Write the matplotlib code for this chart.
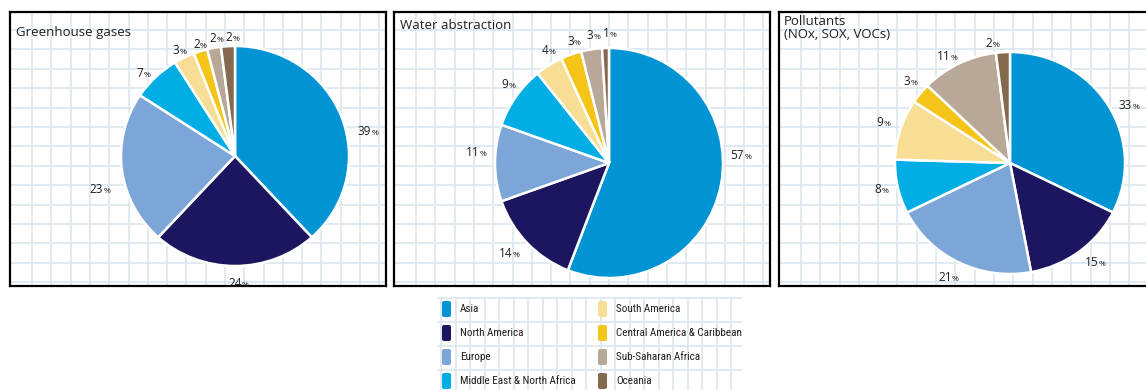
import matplotlib
matplotlib.use("Agg")
import matplotlib.pyplot as plt
import matplotlib.font_manager as fm
import numpy as np
from matplotlib.patches import FancyBboxPatch

# ── data ────────────────────────────────────────────────────────────────
regions = [
    "Asia", "North America", "Europe", "Middle East & North Africa",
    "South America", "Central America & Caribbean", "Sub-Saharan Africa", "Oceania",
]
colors = ["#0094D5", "#1C1660", "#7DA6D8", "#00ADE5",
          "#F8DD95", "#F4C419", "#B8A898", "#84694F"]

ghg_values = [39, 24, 23, 7, 3, 2, 2, 2]
water_values = [57, 14, 11, 9, 4, 3, 3, 1]
pollutant_values = [33, 15, 21, 8, 9, 3, 11, 2]

titles = ["Greenhouse gases", "Water abstraction", "Pollutants\n(NOx, SOX, VOCs)"]

# ── label placement (angle nudge in degrees, distance in radii) ─────────
ghg_label_nudge = [-10, 2, 7, 3, 1, 0, -1, -1.5]
ghg_label_dist = [1.20, 1.15, 1.21, 1.12, 1.10, 1.08, 1.10, 1.09]
water_label_nudge = [14.5, -2, -5, -2.5, -2.7, -2.5, -1, -1]
water_label_dist = [1.17, 1.16, 1.16, 1.14, 1.13, 1.12, 1.13, 1.14]
poll_label_nudge = [-5, 3.4, -0.7, -1, -1, -1.5, 2.3, 5.4]
poll_label_dist = [1.17, 1.16, 1.15, 1.16, 1.18, 1.16, 1.11, 1.10]

# ── layout (pixels) ────────────────────────────────────────────────────
W, H = 1146, 390
GRID = "#DCE6EF"
TEXT = "#1E1E1E"

available = {f.name for f in fm.fontManager.ttflist}
title_font = "Open Sans" if "Open Sans" in available else "DejaVu Sans"
narrow_font = next((f for f in ["Liberation Sans Narrow", "DejaVu Sans Condensed", "Roboto Condensed"]
                    if f in available), "Liberation Sans")

fig = plt.figure(figsize=(W / 100, H / 100), dpi=100)


def px_axes(x, y, w, h):
    return fig.add_axes([x / W, 1 - (y + h) / H, w / W, h / H])


def grid_box(x, y, w, h, x0, y0, dx, dy, border=True):
    ax = px_axes(x, y, w, h)
    ax.set_xlim(0, w)
    ax.set_ylim(h, 0)
    for gx in np.arange(x0, w, dx):
        ax.axvline(gx, color=GRID, lw=1.2, zorder=0)
    for gy in np.arange(y0, h, dy):
        ax.axhline(gy, color=GRID, lw=1.2, zorder=0)
    ax.set_xticks([])
    ax.set_yticks([])
    for s in ax.spines.values():
        s.set_visible(border)
        s.set_linewidth(1.6)
        s.set_color("black")
    if not border:
        ax.patch.set_alpha(0)
    return ax


panels = [
    (10, 12, 376, 274),
    (394, 12, 376, 274),
    (779, 12, 380, 274),
]
title_offsets = [(6, 14), (6, 7), (5, 3)]

# values, centre, x radius, y radius, label nudges, label distances
pies = [
    (ghg_values, (235, 156), 114, 110, ghg_label_nudge, ghg_label_dist),
    (water_values, (609, 163), 114, 115, water_label_nudge, water_label_dist),
    (pollutant_values, (1010, 163), 115, 111, poll_label_nudge, poll_label_dist),
]

for (px, py, pw, ph), title, (tx, ty) in zip(panels, titles, title_offsets):
    ax = grid_box(px, py, pw, ph, 22, 18, 19.3, 19.4)
    ax.text(tx, ty, title, fontsize=9.5, family=title_font, va="top", ha="left",
            linespacing=1.05, color=TEXT)

for values, (cx, cy), rx, ry, nudges, dists in pies:
    ax = px_axes(cx - rx, cy - ry, 2 * rx, 2 * ry)
    wedges, _ = ax.pie(values, colors=colors, startangle=90, counterclock=False,
                       radius=1, wedgeprops=dict(edgecolor="white", linewidth=1.8))
    ax.set_aspect("auto")
    ax.set_xlim(-1, 1)
    ax.set_ylim(-1, 1)
    ax.axis("off")
    for wdg, v, nd, ld in zip(wedges, values, nudges, dists):
        th = np.deg2rad((wdg.theta1 + wdg.theta2) / 2 + nd)
        x, y = ld * np.cos(th), ld * np.sin(th)
        ax.annotate(str(v), (x, y), xytext=(1.5, -3.5), textcoords="offset points",
                    ha="right", va="baseline", fontsize=8.5, family=title_font, color=TEXT,
                    annotation_clip=False)
        ax.annotate("%", (x, y), xytext=(1.5, -3.5), textcoords="offset points",
                    ha="left", va="baseline", fontsize=6, family=title_font, color=TEXT,
                    annotation_clip=False)

# ── legend ─────────────────────────────────────────────────────────────
lx, ly, lw, lh = 437, 297, 305, 93
lax = grid_box(lx, ly, lw, lh, 4, 0.5, 14.5, 24, border=False)
col_x = [5, 161]
row_y = [12, 36, 60, 84]
for i, (name, c) in enumerate(zip(regions, colors)):
    mx = col_x[i // 4]
    my = row_y[i % 4]
    lax.add_patch(FancyBboxPatch((mx, my - 8), 9, 16, boxstyle="round,pad=0,rounding_size=2",
                                 fc=c, ec="none"))
    lax.text(mx + 18, my, name, fontsize=8, family=narrow_font, va="center", ha="left",
             color=TEXT)

fig.savefig("out.png", dpi=100)
